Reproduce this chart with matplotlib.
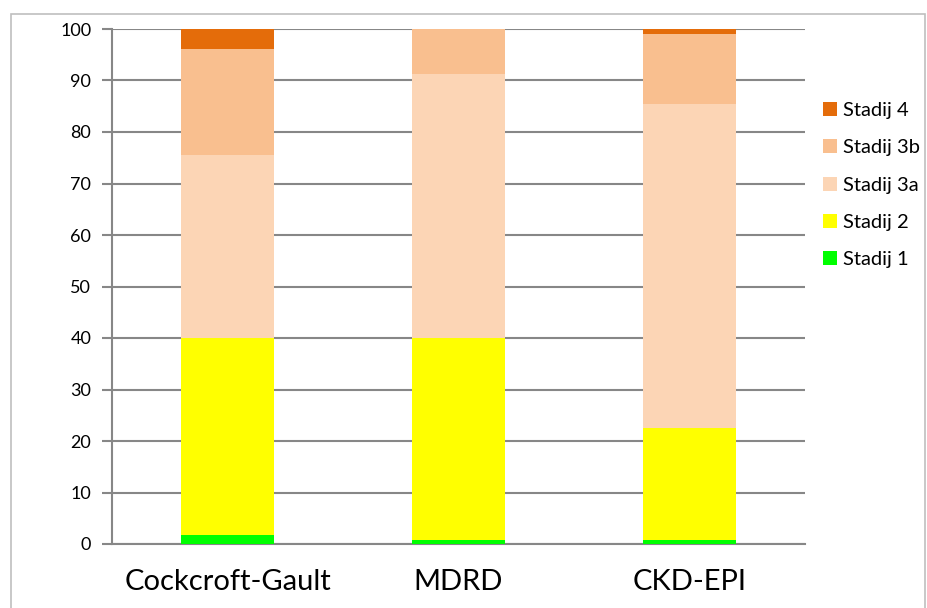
import numpy as np
import matplotlib
matplotlib.use('Agg')
import matplotlib.pyplot as plt
from matplotlib.patches import Rectangle

plt.rcParams['font.family'] = ['Lato', 'DejaVu Sans']

methods = ['Cockcroft-Gault', 'MDRD', 'CKD-EPI']
stages = ['Stadij 1', 'Stadij 2', 'Stadij 3a', 'Stadij 3b', 'Stadij 4']
stadij1 = [1.8, 0.8, 0.8]
stadij2 = [38.2, 39.2, 21.7]
stadij3a = [35.5, 51.3, 62.9]
stadij3b = [20.6, 8.7, 13.7]
stadij4 = [3.9, 0.0, 0.9]
colors = ['#00ff00', '#ffff00', '#fcd5b5', '#f9bf8f', '#e46c0a']

W, H = 927, 608
fig = plt.figure(figsize=(W / 100, H / 100), dpi=100)
ax = fig.add_axes([112 / W, 1 - 544 / H, (805 - 112) / W, (544 - 29) / H])

x = np.arange(len(methods))
bottom = np.zeros(len(methods))
handles = []
for name, vals, c in zip(stages, [stadij1, stadij2, stadij3a, stadij3b, stadij4], colors):
    b = ax.bar(x, vals, width=0.4, bottom=bottom, color=c, label=name, zorder=3)
    handles.append(b)
    bottom += np.array(vals)

ax.set_xlim(-0.5, 2.5)
ax.set_ylim(0, 100)
ax.set_yticks(range(0, 101, 10))
ax.yaxis.grid(True, color='#878787', linewidth=1.5, zorder=0)
ax.set_axisbelow(True)
for s in ['top', 'right']:
    ax.spines[s].set_visible(False)
ax.spines['left'].set_color('#878787')
ax.spines['left'].set_linewidth(1.5)
ax.spines['bottom'].set_color('#878787')
ax.spines['bottom'].set_linewidth(1.5)
ax.tick_params(axis='y', length=7, width=1.5, color='#878787', labelsize=13, pad=8)
ax.tick_params(axis='x', length=0, labelsize=21, pad=18)
ax.set_xticks(x)
ax.set_xticklabels(methods)

ax.legend(handles[::-1], stages[::-1], loc='upper left', bbox_to_anchor=(815 / W, 1 - 94 / H),
          bbox_transform=fig.transFigure, frameon=False, fontsize=14.5,
          handlelength=0.7, handleheight=0.7, handletextpad=0.3, labelspacing=1.0,
          borderaxespad=0)

fig.patches.append(Rectangle((11 / W, -0.01), (925 - 11) / W, 1 - 14 / H + 0.01,
                             transform=fig.transFigure, fill=False,
                             edgecolor='#bfbfbf', linewidth=1.2))

fig.savefig('out.png', dpi=100)
